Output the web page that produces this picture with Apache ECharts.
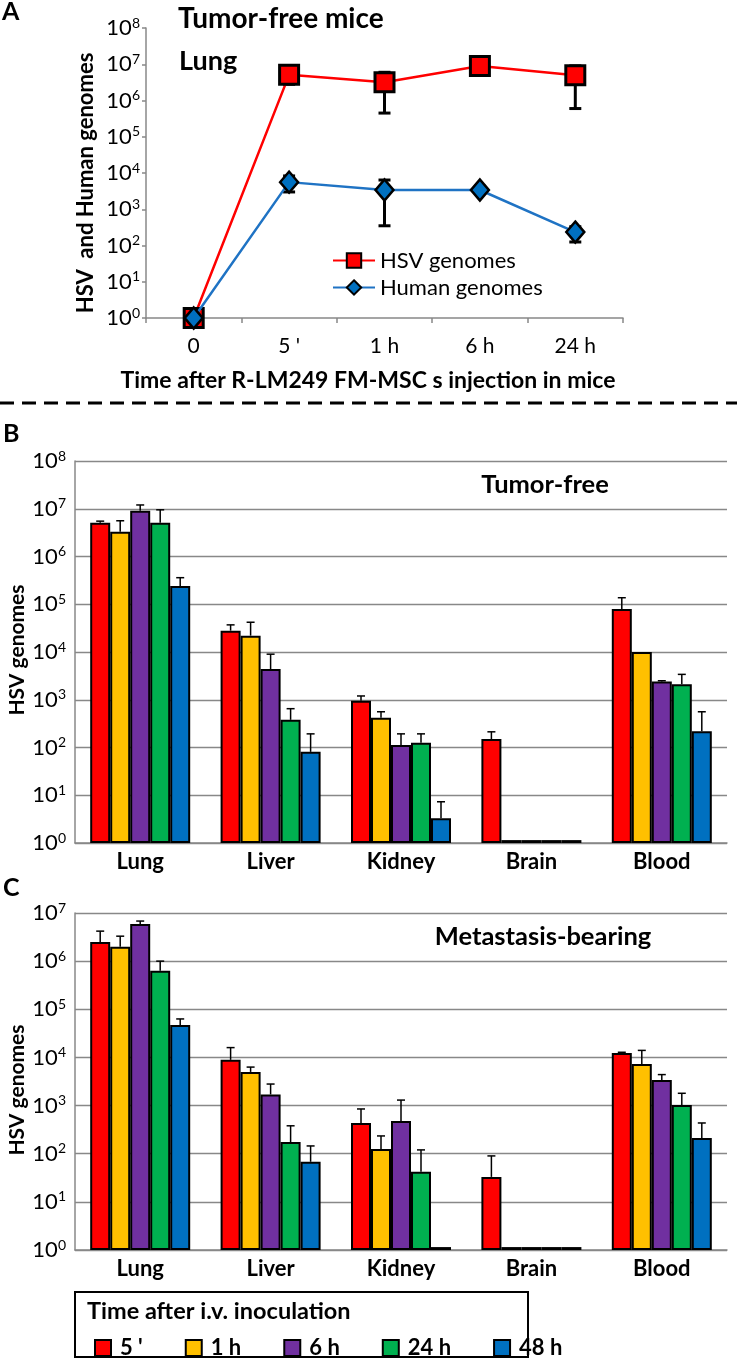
<!DOCTYPE html>
<html><head><meta charset="utf-8">
<script src="https://cdn.jsdelivr.net/npm/echarts@6/dist/echarts.min.js"></script>
<style>html,body{margin:0;padding:0;background:#fff}#c{width:737px;height:1359px}</style>
</head><body><div id="c"></div>
<script>
// ---------- Panel A data (Tumor-free mice, Lung) ----------
const timeA = ['0', "5 '", '1 h', '6 h', '24 h'];
const hsvMean  = [1, 5.1e6, 3.2e6, 9.0e6, 5.0e6];
const hsvLow   = [1, 2.8e6, 4.5e5, 6.0e6, 6.0e5];
const hsvHigh  = [1, 9.0e6, 6.0e6, 1.25e7, 9.0e6];
const humMean  = [1, 5.6e3, 3.4e3, 3.4e3, 235];
const humLow   = [1, 3.0e3, 350, 2.8e3, 125];
const humHigh  = [1, 8.3e3, 6.4e3, 4.3e3, 330];

// ---------- Panels B and C ----------
const organs = ['Lung', 'Liver', 'Kidney', 'Brain', 'Blood'];
const times  = ["5 '", '1 h', '6 h', '24 h', '48 h'];
// B: Tumor-free (mean, upper error end) per time point, values by organ
const b5m  = [5.1e6, 2.8e4, 950, 150, 8.0e4];
const b5t  = [5.5e6, 3.7e4, 1.2e3, 213, 1.37e5];
const b1m  = [3.3e6, 2.2e4, 420, 1.15, 1.0e4];
const b1t  = [5.6e6, 4.2e4, 560, null, null];
const b6m  = [9.1e6, 4.4e3, 113, 1.15, 2.4e3];
const b6t  = [1.2e7, 9.0e3, 193, null, 2.5e3];
const b24m = [5.1e6, 380, 125, 1.15, 2.1e3];
const b24t = [9.5e6, 650, 193, null, 3.4e3];
const b48m = [2.4e5, 81, 3.3, 1.15, 220];
const b48t = [3.6e5, 193, 7.3, null, 560];
// C: Metastasis-bearing
const c5m  = [2.5e6, 8.9e3, 436, 33, 1.24e4];
const c5t  = [4.2e6, 1.6e4, 850, 90, 1.28e4];
const c1m  = [2.0e6, 5.0e3, 125, 1.15, 7.3e3];
const c1t  = [3.3e6, 6.3e3, 234, null, 1.4e4];
const c6m  = [5.9e6, 1.7e3, 480, 1.15, 3.4e3];
const c6t  = [6.8e6, 2.8e3, 1.3e3, null, 4.4e3];
const c24m = [6.3e5, 175, 42, 1.15, 1.03e3];
const c24t = [1.0e6, 380, 120, null, 1.8e3];
const c48m = [4.7e4, 68, 1.15, 1.15, 213];
const c48t = [6.3e4, 145, null, null, 435];

const colors = ['#FF0000', '#FFC000', '#7030A0', '#00B050', '#0070C0'];
const FONT = 'Lato';
const BAR_W = 20;

const bMeans = [b5m, b1m, b6m, b24m, b48m];
const bTops  = [b5t, b1t, b6t, b24t, b48t];
const cMeans = [c5m, c1m, c6m, c24m, c48m];
const cTops  = [c5t, c1t, c6t, c24t, c48t];

const chart = echarts.init(document.getElementById('c'), null, {renderer: 'canvas'});

function powLabel(v) {
  const e = Math.round(Math.log10(v));
  return '{b|10}{s|' + e + '}';
}
const richPow = {
  b: {fontFamily: FONT, fontSize: 22, color: '#000', lineHeight: 24},
  s: {fontFamily: FONT, fontSize: 14, color: '#000', verticalAlign: 'top', lineHeight: 14, padding: [0, 0, 8, 0]}
};

function yLog(gridIndex, max) {
  return {
    type: 'log', logBase: 10, min: 1, max: max, gridIndex: gridIndex,
    axisLine: {show: true, lineStyle: {color: '#888', width: 1.5}},
    axisTick: {show: gridIndex === 0, length: 4, lineStyle: {color: '#888', width: 1.5}},
    splitLine: {show: gridIndex !== 0, lineStyle: {color: '#888', width: 1.3}},
    minorTick: {show: false}, minorSplitLine: {show: false},
    axisLabel: {formatter: powLabel, rich: richPow, margin: gridIndex === 0 ? 6 : 9}
  };
}

function errA(params, api) {
  const i = api.value(0);
  const lo = api.coord([i, api.value(1)]);
  const hi = api.coord([i, api.value(2)]);
  const st = {stroke: '#000', lineWidth: 3};
  return {type: 'group', children: [
    {type: 'line', shape: {x1: lo[0], y1: lo[1], x2: hi[0], y2: hi[1]}, style: st},
    {type: 'line', shape: {x1: lo[0] - 6, y1: lo[1], x2: lo[0] + 6, y2: lo[1]}, style: st},
    {type: 'line', shape: {x1: hi[0] - 6, y1: hi[1], x2: hi[0] + 6, y2: hi[1]}, style: st}
  ]};
}
function errBar(params, api) {
  const i = api.value(0), k = api.value(3);
  const p0 = api.coord([i, api.value(1)]);
  const p1 = api.coord([i, api.value(2)]);
  const x = p0[0] + (k - 2) * BAR_W;
  const st = {stroke: '#000', lineWidth: 1.5};
  return {type: 'group', children: [
    {type: 'line', shape: {x1: x, y1: p0[1], x2: x, y2: p1[1]}, style: st},
    {type: 'line', shape: {x1: x - 4, y1: p1[1], x2: x + 4, y2: p1[1]}, style: st}
  ]};
}
function errData(means, tops) {
  const out = [];
  tops.forEach((arr, k) => arr.forEach((t, i) => { if (t != null) out.push([i, means[k][i], t, k]); }));
  return out;
}

const series = [];
// Panel A
series.push({
  name: 'HSV genomes', type: 'line', xAxisIndex: 0, yAxisIndex: 0, data: hsvMean,
  symbol: 'rect', symbolSize: 19, z: 5,
  lineStyle: {color: '#FF0000', width: 2.5},
  itemStyle: {color: '#FF0000', borderColor: '#000', borderWidth: 3}
});
series.push({
  name: 'Human genomes', type: 'line', xAxisIndex: 0, yAxisIndex: 0, data: humMean,
  symbol: 'diamond', symbolSize: [18, 21], z: 6,
  lineStyle: {color: '#1F73C4', width: 2.5},
  itemStyle: {color: '#0070C0', borderColor: '#000', borderWidth: 2.5}
});
series.push({type: 'custom', xAxisIndex: 0, yAxisIndex: 0, renderItem: errA, z: 4,
  encode: {x: 0, y: [1, 2]}, data: hsvLow.map((v, i) => [i, v, hsvHigh[i]])});
series.push({type: 'custom', xAxisIndex: 0, yAxisIndex: 0, renderItem: errA, z: 4,
  encode: {x: 0, y: [1, 2]}, data: humLow.map((v, i) => [i, v, humHigh[i]])});

// Panels B and C
[[1, bMeans, bTops], [2, cMeans, cTops]].forEach(([g, means, tops]) => {
  times.forEach((t, k) => {
    series.push({
      name: t, type: 'bar', xAxisIndex: g, yAxisIndex: g, data: means[k],
      barWidth: BAR_W, barGap: '0%',
      itemStyle: {color: colors[k], borderColor: '#000', borderWidth: 2}
    });
  });
  series.push({type: 'custom', xAxisIndex: g, yAxisIndex: g, renderItem: errBar, z: 3,
    encode: {x: 0, y: [1, 2]}, data: errData(means, tops)});
});

const catB = (g) => ({
  type: 'category', gridIndex: g, data: organs, boundaryGap: true,
  axisLine: {lineStyle: {color: '#888', width: 1.5}},
  axisTick: {show: false},
  axisLabel: {fontFamily: FONT, fontSize: 22, fontWeight: 'bold', color: '#000', margin: 8}
});

const bold = (txt, x, y, size, align, extra) => Object.assign({
  type: 'text', x: x, y: y,
  style: {text: txt, fontFamily: FONT, fontSize: size, fontWeight: 'bold', fill: '#000',
    textAlign: align || 'left', textVerticalAlign: 'middle'}
}, extra || {});

chart.setOption({
  animation: false,
  textStyle: {fontFamily: FONT},
  grid: [
    {left: 146, top: 28, width: 477, height: 290},
    {left: 75, top: 461, width: 652, height: 382},
    {left: 75, top: 913, width: 652, height: 337}
  ],
  xAxis: [
    {type: 'category', gridIndex: 0, data: timeA, boundaryGap: true,
      axisLine: {lineStyle: {color: '#888', width: 1.5}},
      axisTick: {show: true, length: 5, interval: 0, lineStyle: {color: '#888', width: 1.5}},
      axisLabel: {fontFamily: FONT, fontSize: 21, color: '#000', margin: 18}},
    catB(1), catB(2)
  ],
  yAxis: [yLog(0, 1e8), yLog(1, 1e8), yLog(2, 1e7)],
  legend: [
    {data: ['HSV genomes', 'Human genomes'], orient: 'vertical', left: 327, top: 244,
      itemWidth: 42, itemHeight: 18, itemGap: 4,
      textStyle: {fontFamily: FONT, fontSize: 22, color: '#000', lineHeight: 23}},
    {data: times, orient: 'horizontal', left: 89, top: 1331, icon: 'rect',
      itemWidth: 16, itemHeight: 16, itemGap: 42,
      textStyle: {fontFamily: FONT, fontSize: 22, fontWeight: 'bold', color: '#000', lineHeight: 24,
        padding: [0, 0, 0, 4]}}
  ],
  graphic: [
    bold('A', 2, 12, 25),
    bold('Tumor-free mice', 178, 19, 28),
    bold('Lung', 179, 61, 27),
    bold('HSV  and Human genomes', 86, 183, 22, 'center', {rotation: Math.PI / 2}),
    bold('Time after R-LM249 FM-MSC s injection in mice', 368, 381, 23, 'center'),
    {type: 'line', shape: {x1: 0, y1: 403, x2: 737, y2: 403},
      style: {stroke: '#000', lineWidth: 3, lineDash: [14, 8]}},
    bold('B', 3, 434, 25),
    bold('Tumor-free', 545, 485, 25.5, 'center'),
    bold('HSV genomes', 17, 650, 21, 'center', {rotation: Math.PI / 2}),
    bold('C', 3, 888, 25),
    bold('Metastasis-bearing', 543, 937, 25.5, 'center'),
    bold('HSV genomes', 17, 1090, 21, 'center', {rotation: Math.PI / 2}),
    {type: 'rect', shape: {x: 75, y: 1292, width: 453, height: 65},
      style: {fill: 'none', stroke: '#000', lineWidth: 2}},
    bold('Time after i.v. inoculation', 87, 1311, 23.5)
  ],
  series: series
});
</script></body></html>
